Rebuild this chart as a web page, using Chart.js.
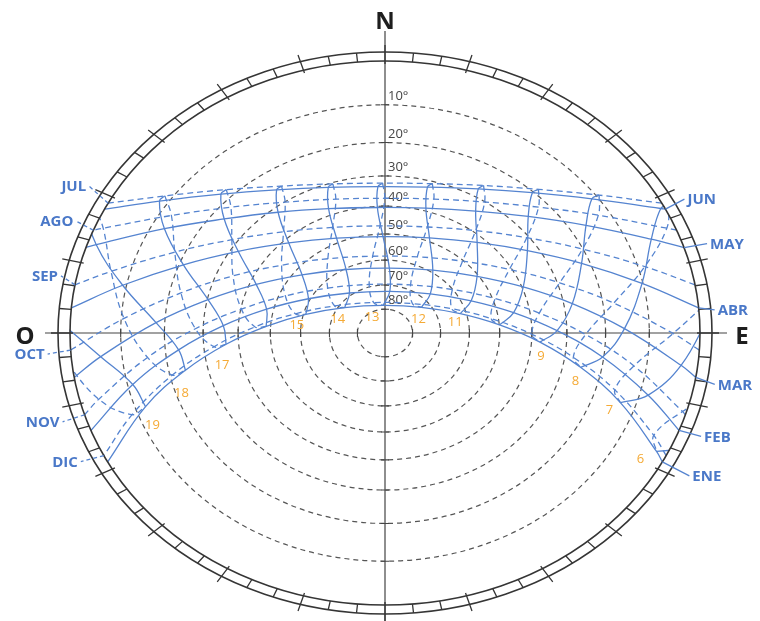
<!DOCTYPE html>
<html>
<head>
<meta charset="utf-8">
<script src="https://cdn.jsdelivr.net/npm/chart.js@4.4.1/dist/chart.umd.min.js"></script>
<style>
  html, body { margin: 0; padding: 0; background: #fff; }
  canvas { display: block; }
</style>
</head>
<body>
<canvas id="sunpath" width="760" height="621"></canvas>
<script>
// ---- data -------------------------------------------------------------
const MONTHS = ['ENE','FEB','MAR','ABR','MAY','JUN','JUL','AGO','SEP','OCT','NOV','DIC'];
const HOURS = [6,7,8,9,10,11,12,13,14,15,16,17,18,19];
const HOUR_LABELS = ['6','7','8','9',null,'11','12','13','14','15',null,'17','18','19'];
const ALTITUDE_RINGS = [10,20,30,40,50,60,70,80];
const ALTITUDE_LABELS = ['10°','20°','30°','40°','50°','60°','70°','80°'];

// azimuth (deg from north, east positive) where the sun rises / sets on the 1st of each month
const RISE_AZ = [118.3, 111.0, 99.4, 84.7, 71.7, 62.9, 61.5, 67.8, 79.8, 93.6, 107.5, 116.8];
const SET_AZ  = [-118.3, -111.0, -99.4, -84.7, -71.7, -62.9, -61.5, -67.8, -79.8, -93.6, -107.5, -116.8];

// sun position [azimuth, altitude] at each clock hour of HOURS (null: far below the horizon)
const SUN_ENE = [[116.8,2.0],[108.9,13.4],[101.5,25.3],[93.9,37.5],[85.3,49.9],[73.4,62.0],[50.8,73.0],[-3.4,78.4],[-54.0,72.0],[-74.8,60.8],[-86.3,48.6],[-94.7,36.3],[-102.2,24.1],[-109.6,12.2]];
const SUN_FEB = [[113.6,-3.4],[105.3,8.2],[97.3,20.3],[89.1,32.7],[79.6,44.9],[66.6,56.8],[45.0,67.0],[5.7,72.5],[-37.5,69.0],[-62.6,59.4],[-76.9,47.8],[-87.0,35.6],[-95.4,23.3],[-103.3,11.1]];
const SUN_MAR = [null,[97.2,3.1],[88.8,15.5],[79.7,27.7],[68.9,39.6],[54.5,50.5],[33.3,59.1],[3.3,63.1],[-27.9,60.4],[-50.9,52.5],[-66.4,41.9],[-77.7,30.2],[-87.0,17.9],[-95.5,5.6]];
const SUN_ABR = [null,[86.0,-2.0],[77.4,10.2],[67.7,22.0],[56.2,32.9],[41.3,42.2],[22.0,48.7],[-1.0,51.0],[-23.8,48.3],[-42.7,41.5],[-57.2,32.0],[-68.6,21.0],[-78.1,9.2],[-86.7,-3.0]];
const SUN_MAY = [null,null,[67.8,5.2],[58.2,16.2],[46.7,26.0],[32.7,33.9],[15.8,39.0],[-3.0,40.4],[-21.4,37.7],[-37.4,31.6],[-50.6,23.1],[-61.3,12.8],[-70.5,1.6],null];
const SUN_JUN = [null,null,[62.4,0.7],[53.1,11.2],[42.2,20.3],[29.2,27.5],[14.1,32.1],[-2.4,33.4],[-18.6,31.1],[-33.2,25.7],[-45.6,17.8],[-55.9,8.3],[-64.8,-2.5],null];
const SUN_JUL = [null,null,[62.3,-1.0],[53.3,9.4],[42.7,18.6],[30.0,25.9],[15.3,30.7],[-0.8,32.3],[-16.8,30.4],[-31.3,25.4],[-43.7,17.8],[-54.2,8.5],[-63.1,-2.0],null];
const SUN_AGO = [null,null,[66.7,1.5],[57.4,12.4],[46.5,22.2],[33.3,30.1],[17.5,35.4],[-0.1,37.3],[-17.6,35.4],[-33.4,30.1],[-46.6,22.1],[-57.5,12.4],[-66.7,1.5],null];
const SUN_SEP = [null,[82.2,-3.5],[73.5,8.6],[63.8,20.1],[52.1,30.6],[37.4,39.3],[19.0,45.2],[-2.3,47.0],[-23.2,44.2],[-40.9,37.6],[-54.8,28.5],[-66.0,17.7],[-75.4,6.1],null];
const SUN_OCT = [[98.7,-7.2],[90.1,5.1],[81.4,17.4],[71.6,29.4],[59.4,40.7],[43.0,50.3],[20.1,56.8],[-7.9,58.2],[-33.6,53.7],[-52.8,45.2],[-66.5,34.5],[-77.2,22.8],[-86.3,10.6],[-94.8,-1.7]];
const SUN_NOV = [[107.0,0.7],[98.7,12.7],[90.5,25.0],[81.5,37.3],[70.1,49.2],[53.2,60.1],[24.7,68.0],[-15.7,69.0],[-47.8,62.4],[-66.7,52.0],[-79.1,40.2],[-88.5,27.9],[-96.8,15.6],[-105.0,3.5]];
const SUN_DIC = [[113.8,4.0],[106.0,15.6],[98.5,27.7],[90.6,40.0],[81.1,52.3],[67.1,64.1],[38.9,74.2],[-17.8,76.6],[-58.1,68.7],[-76.1,57.3],[-86.9,45.1],[-95.3,32.8],[-102.9,20.6],[-110.5,8.8]];

// ---- layout & style ---------------------------------------------------
const CENTER = { x: 385, y: 333 };          // zenith, px
const HORIZON = { rx: 315, ry: 272 };       // horizon ellipse, px
const FRAME_GAP = { x: 12, y: 9 };          // width of the azimuth band
const LINE_BLUE = '#5584d0';
const TEXT_BLUE = '#4a78c8';
const HOUR_ORANGE = '#f5aa35';
const RING_GRAY = '#555';
const FRAME_GRAY = '#353535';

// label placement, px from the sunrise (ENE..JUN) or sunset (JUL..DIC) point
const MONTH_LABEL_OFFSET = [[30,15],[25,7],[22,8],[19,3],[26,-3],[22,-9],[-22,-16],[-20,-8],[-17,-8],[-26,5],[-25,8],[-26,7]];
// hour label placement, px from the ENE point of that hour
const HOUR_LABEL_OFFSET = [[-16,8],[-11,8],[-5,14],[1,14],null,[-5,9],[-3,12],[-11,12],[-7,12],[-9,11],null,[-4,21],[-4,23],[7,19]];

const SUN_BY_MONTH = [SUN_ENE, SUN_FEB, SUN_MAR, SUN_ABR, SUN_MAY, SUN_JUN, SUN_JUL, SUN_AGO, SUN_SEP, SUN_OCT, SUN_NOV, SUN_DIC];

// stereographic projection of the sky onto the horizon disc (radius 1)
const DEG = Math.PI / 180;
function project(az, alt) {
  const r = Math.tan((90 - alt) / 2 * DEG);
  return { x: r * Math.sin(az * DEG), y: r * Math.cos(az * DEG) };
}
function ringRadius(alt) { return Math.tan((90 - alt) / 2 * DEG); }

// ---- datasets ---------------------------------------------------------
const datasets = [];
MONTHS.forEach((m, i) => {
  const pts = [project(RISE_AZ[i], 0)];
  SUN_BY_MONTH[i].forEach(p => { if (p && p[1] >= 0) pts.push(project(p[0], p[1])); });
  pts.push(project(SET_AZ[i], 0));
  datasets.push({
    label: m, data: pts, showLine: true, fill: false,
    borderColor: LINE_BLUE, borderWidth: 1.3,
    borderDash: i < 6 ? [] : [6, 4],
    pointRadius: 0, tension: 0.4
  });
});
const FIRST_HALF = [0, 1, 2, 3, 4, 5, 6];
const SECOND_HALF = [6, 7, 8, 9, 10, 11, 0];
HOURS.forEach((h, j) => {
  [[FIRST_HALF, []], [SECOND_HALF, [6, 4]]].forEach(([months, dash]) => {
    const pts = months.map(i => SUN_BY_MONTH[i][j]).filter(p => p).map(p => project(p[0], p[1]));
    if (pts.length > 1) {
      datasets.push({
        label: h + 'h', data: pts, showLine: true, fill: false,
        borderColor: LINE_BLUE, borderWidth: 1.3, borderDash: dash,
        pointRadius: 0, tension: 0.4
      });
    }
  });
});

// ---- drawing of the sky dome, frame and labels ------------------------
function geometry(chart) {
  const xs = chart.scales.x, ys = chart.scales.y;
  const cx = xs.getPixelForValue(0), cy = ys.getPixelForValue(0);
  return {
    xs, ys, cx, cy,
    rx: xs.getPixelForValue(1) - cx,
    ry: cy - ys.getPixelForValue(1)
  };
}
function toPx(g, p) { return { x: g.xs.getPixelForValue(p.x), y: g.ys.getPixelForValue(p.y) }; }

const sunPathPlugin = {
  id: 'sunPath',
  beforeDraw(chart) {
    const ctx = chart.ctx;
    ctx.save();
    ctx.fillStyle = '#fff';
    ctx.fillRect(0, 0, chart.width, chart.height);
    ctx.restore();
  },
  beforeDatasetsDraw(chart) {
    const ctx = chart.ctx, g = geometry(chart);
    ctx.save();
    // altitude rings
    ctx.strokeStyle = RING_GRAY;
    ctx.lineWidth = 1.2;
    ctx.setLineDash([5, 4]);
    ALTITUDE_RINGS.forEach(a => {
      const r = ringRadius(a);
      ctx.beginPath();
      ctx.ellipse(g.cx, g.cy, g.rx * r, g.ry * r, 0, 0, Math.PI * 2);
      ctx.stroke();
    });
    ctx.setLineDash([]);
    // cardinal axes
    ctx.strokeStyle = '#444';
    ctx.lineWidth = 1.2;
    ctx.beginPath();
    ctx.moveTo(g.cx, g.cy - g.ry - 30); ctx.lineTo(g.cx, chart.height);
    ctx.moveTo(g.cx - g.rx - 25, g.cy); ctx.lineTo(g.cx + g.rx + 27, g.cy);
    ctx.stroke();
    // small ticks where the rings cross the axes
    ctx.lineWidth = 1.1;
    ctx.beginPath();
    ALTITUDE_RINGS.forEach(a => {
      const r = ringRadius(a);
      [-1, 1].forEach(s => {
        ctx.moveTo(g.cx + s * g.rx * r, g.cy - 4); ctx.lineTo(g.cx + s * g.rx * r, g.cy + 4);
        ctx.moveTo(g.cx - 4, g.cy + s * g.ry * r); ctx.lineTo(g.cx + 4, g.cy + s * g.ry * r);
      });
    });
    ctx.stroke();
    // altitude labels along the north axis
    ctx.fillStyle = '#444';
    ctx.font = '13px "Open Sans", "DejaVu Sans", sans-serif';
    ctx.textAlign = 'left';
    ctx.textBaseline = 'bottom';
    ALTITUDE_RINGS.forEach((a, k) => {
      const y = g.cy - g.ry * ringRadius(a);
      ctx.fillText(ALTITUDE_LABELS[k], g.cx + 3, y - 2);
    });
    ctx.restore();
    // keep sun paths inside the horizon
    ctx.save();
    ctx.beginPath();
    ctx.ellipse(g.cx, g.cy, g.rx + 0.5, g.ry + 0.5, 0, 0, Math.PI * 2);
    ctx.clip();
  },
  afterDatasetsDraw(chart) {
    const ctx = chart.ctx, g = geometry(chart);
    ctx.restore();
    ctx.save();
    // azimuth band
    ctx.strokeStyle = FRAME_GRAY;
    ctx.lineWidth = 1.6;
    ctx.beginPath();
    ctx.ellipse(g.cx, g.cy, g.rx, g.ry, 0, 0, Math.PI * 2);
    ctx.stroke();
    ctx.beginPath();
    ctx.ellipse(g.cx, g.cy, g.rx + FRAME_GAP.x, g.ry + FRAME_GAP.y, 0, 0, Math.PI * 2);
    ctx.stroke();
    ctx.lineWidth = 1.3;
    ctx.beginPath();
    for (let a = 0; a < 360; a += 5) {
      const s = Math.sin(a * DEG), c = Math.cos(a * DEG);
      let x1 = g.cx + g.rx * s, y1 = g.cy - g.ry * c;
      let x2 = g.cx + (g.rx + FRAME_GAP.x) * s, y2 = g.cy - (g.ry + FRAME_GAP.y) * c;
      if (a % 15 === 0) {
        const dx = x2 - x1, dy = y2 - y1, len = Math.hypot(dx, dy);
        const ux = dx / len, uy = dy / len;
        x1 -= ux * 3; y1 -= uy * 3;
        x2 += ux * 7; y2 += uy * 7;
      }
      ctx.moveTo(x1, y1); ctx.lineTo(x2, y2);
    }
    ctx.stroke();

    // month labels with leaders
    ctx.font = 'bold 15px "Open Sans", "DejaVu Sans", sans-serif';
    ctx.textBaseline = 'middle';
    ctx.fillStyle = TEXT_BLUE;
    ctx.strokeStyle = LINE_BLUE;
    ctx.lineWidth = 1.3;
    MONTHS.forEach((m, i) => {
      const east = i < 6;
      const end = toPx(g, project(east ? RISE_AZ[i] : SET_AZ[i], 0));
      const off = MONTH_LABEL_OFFSET[i];
      const lx = end.x + off[0], ly = end.y + off[1];
      ctx.setLineDash(east ? [] : [4, 3]);
      ctx.beginPath();
      ctx.moveTo(end.x, end.y);
      ctx.lineTo(lx + (east ? -3 : 3), ly - 1);
      ctx.stroke();
      ctx.textAlign = east ? 'left' : 'right';
      ctx.fillText(m, lx, ly);
    });
    ctx.setLineDash([]);

    // hour labels
    ctx.font = '13px "Open Sans", "DejaVu Sans", sans-serif';
    ctx.fillStyle = HOUR_ORANGE;
    ctx.textAlign = 'center';
    ctx.textBaseline = 'middle';
    HOURS.forEach((h, j) => {
      const txt = HOUR_LABELS[j], off = HOUR_LABEL_OFFSET[j];
      if (!txt || !off) return;
      const p = SUN_ENE[j];
      const at = toPx(g, project(p[0], p[1]));
      ctx.fillText(txt, at.x + off[0], at.y + off[1]);
    });

    // cardinal letters
    ctx.font = 'bold 24px "Open Sans", "DejaVu Sans", sans-serif';
    ctx.fillStyle = '#1e1e1e';
    ctx.textAlign = 'center';
    ctx.textBaseline = 'middle';
    ctx.fillText('N', g.cx, g.cy - g.ry - 39);
    ctx.fillText('E', g.cx + g.rx + 42, g.cy + 4);
    ctx.fillText('O', g.cx - g.rx - 45, g.cy + 4);
    ctx.restore();
  }
};

new Chart(document.getElementById('sunpath'), {
  type: 'scatter',
  data: { datasets },
  options: {
    responsive: false,
    animation: false,
    events: [],
    layout: { padding: 0 },
    plugins: { legend: { display: false }, tooltip: { enabled: false } },
    scales: {
      x: { type: 'linear', display: false, min: -CENTER.x / HORIZON.rx, max: (760 - CENTER.x) / HORIZON.rx },
      y: { type: 'linear', display: false, min: -(621 - CENTER.y) / HORIZON.ry, max: CENTER.y / HORIZON.ry }
    }
  },
  plugins: [sunPathPlugin]
});
</script>
</body>
</html>
